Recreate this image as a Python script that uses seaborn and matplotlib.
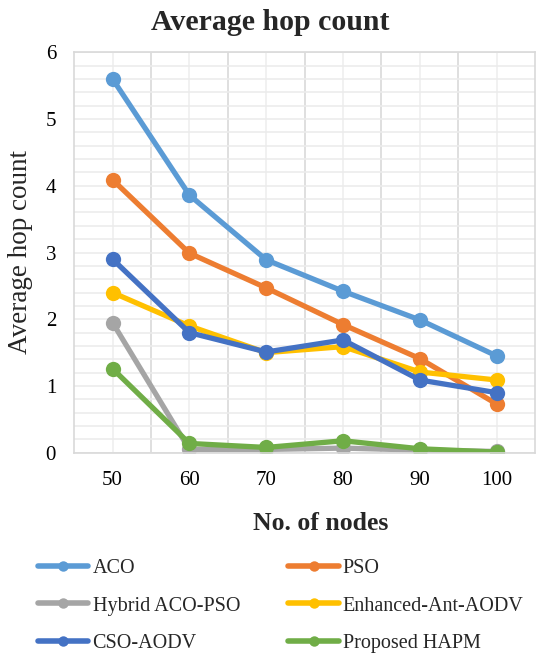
import matplotlib
matplotlib.use("Agg")
import matplotlib.pyplot as plt
import matplotlib.ticker as mticker
import seaborn as sns
import pandas as pd

nodes = ["50", "60", "70", "80", "90", "100"]
aco = [5.6, 3.86, 2.89, 2.42, 1.99, 1.45]
pso = [4.09, 2.99, 2.47, 1.92, 1.41, 0.73]
hybrid = [1.95, 0.05, 0.05, 0.07, 0.04, 0.02]
enhanced = [2.40, 1.90, 1.50, 1.59, 1.21, 1.09]
cso = [2.90, 1.80, 1.51, 1.69, 1.09, 0.90]
hapm = [1.26, 0.14, 0.08, 0.18, 0.06, 0.01]

series = {
    "ACO": aco,
    "PSO": pso,
    "Hybrid ACO-PSO": hybrid,
    "Enhanced-Ant-AODV": enhanced,
    "CSO-AODV": cso,
    "Proposed HAPM": hapm,
}
colors = ["#5B9BD5", "#ED7D31", "#A5A5A5", "#FFC000", "#4472C4", "#70AD47"]

rows = []
for name, vals in series.items():
    for i, v in enumerate(vals):
        rows.append({"pos": i, "nodes": nodes[i], "value": v, "method": name})
df = pd.DataFrame(rows)

sns.set_theme(style="white")
plt.rcParams["font.family"] = ["Liberation Serif", "DejaVu Serif"]

fig = plt.figure(figsize=(5.45, 6.61), dpi=100)
ax = fig.add_axes([0.136, 0.315, 0.846, 0.606])

sns.lineplot(data=df, x="pos", y="value", hue="method", palette=colors,
             linewidth=3.8, marker="o", markersize=11, markeredgewidth=0,
             ax=ax, legend=False, errorbar=None)

ax.set_xlim(-0.5, 5.5)
ax.set_ylim(0, 6)
ax.set_xticks(range(len(nodes)))
ax.set_xticklabels(nodes)
ax.xaxis.set_minor_locator(mticker.FixedLocator([i + 0.5 for i in range(5)]))
ax.yaxis.set_major_locator(mticker.MultipleLocator(1))
ax.yaxis.set_minor_locator(mticker.MultipleLocator(0.2))

ax.grid(True, which="major", axis="y", color="#ECECEC", linewidth=1.2)
ax.grid(True, which="minor", axis="y", color="#ECECEC", linewidth=1.2)
ax.grid(True, which="major", axis="x", color="#EFEFEF", linewidth=1.2)
ax.grid(True, which="minor", axis="x", color="#D9D9D9", linewidth=1.2)
ax.set_axisbelow(True)
ax.tick_params(axis="both", which="both", length=0, labelsize=15, colors="black")
ax.tick_params(axis="x", pad=13)
ax.tick_params(axis="y", pad=13)
for sp in ax.spines.values():
    sp.set_color("#D9D9D9")
    sp.set_linewidth(1.2)

ax.set_title("Average hop count", fontsize=21.5, fontweight="bold", pad=16,
             x=0.425)
ax.set_xlabel("No. of nodes", fontsize=18.5, fontweight="bold")
ax.xaxis.set_label_coords(0.535, -0.148)
ax.set_ylabel("Average hop count", fontsize=19.5)
ax.yaxis.set_label_coords(-0.089, 0.502)

# legend filled row by row (ncol=2 fills column-first, so reorder)
names = list(series.keys())
order = [0, 2, 4, 1, 3, 5]
handles = [plt.Line2D([], [], color=colors[i], linewidth=4, marker="o",
                      markersize=7.5, markeredgewidth=0) for i in order]
fig.legend(handles, [names[i] for i in order], loc="upper left",
           bbox_to_anchor=(0.07, 0.154), ncol=2, frameon=False,
           fontsize=14.5, handlelength=2.5, handletextpad=0.2,
           columnspacing=2.4, labelspacing=0.9, borderpad=0,
           borderaxespad=0)

fig.savefig("out.png", dpi=100, facecolor="white")
